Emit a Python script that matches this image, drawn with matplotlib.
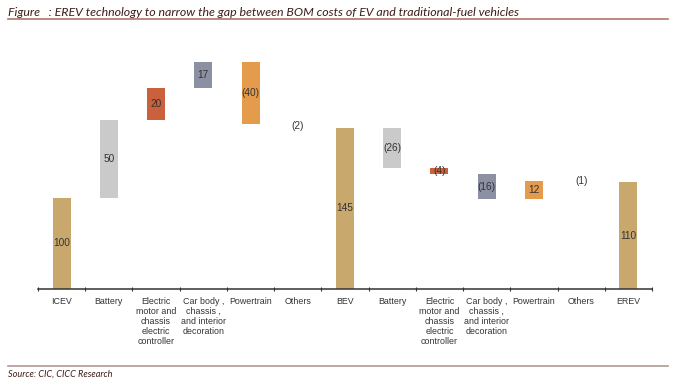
import matplotlib
matplotlib.use("Agg")
import matplotlib.pyplot as plt
from matplotlib.lines import Line2D

# waterfall data (BOM cost)
categories = ["ICEV", "Battery",
              "Electric\nmotor and\nchassis\nelectric\ncontroller",
              "Car body ,\nchassis ,\nand interior\ndecoration",
              "Powertrain", "Others", "BEV", "Battery",
              "Electric\nmotor and\nchassis\nelectric\ncontroller",
              "Car body ,\nchassis ,\nand interior\ndecoration",
              "Powertrain", "Others", "EREV"]
values = [100, 50, 20, 17, -40, -2, 145, -26, -4, -16, 12, -1, 110]
is_total = [True, False, False, False, False, False, True,
            False, False, False, False, False, True]

tan, gray, rust, slate, orange = "#C9A86E", "#CACACA", "#C8613C", "#8C90A3", "#E59B4C"
colors = [tan, gray, rust, slate, orange, "white", tan,
          gray, rust, slate, orange, "white", tan]

fig = plt.figure(figsize=(6.77, 3.87), dpi=100)
ax = fig.add_axes([38/677, 1-289/387, (652-38)/677, (289-40)/387])

running = 0
for i, (v, tot) in enumerate(zip(values, is_total)):
    if tot:
        bottom, height = 0, v
        running = v
        mid = 41.7 + (v - 41.7) / 2
    else:
        bottom, height = running, v
        running += v
        mid = bottom + v / 2
    ax.bar(i, height, bottom=bottom, width=0.38, color=colors[i], edgecolor="none")
    txt = str(v) if v >= 0 else "(%d)" % abs(v)
    ax.text(i, mid, txt, ha="center", va="center", fontsize=7.3,
            family="Liberation Sans", color="#333333")

ax.set_xlim(-0.5, len(values) - 0.5)
ax.set_ylim(41.7, 201)
for s in ["top", "left", "right"]:
    ax.spines[s].set_visible(False)
ax.spines["bottom"].set_color("#333333")
ax.spines["bottom"].set_linewidth(1.1)
ax.set_yticks([])
ax.set_xticks([i - 0.5 for i in range(len(values) + 1)])
ax.set_xticklabels([])
ax.tick_params(axis="x", direction="inout", length=3, width=0.8, color="#333333")

for i, c in enumerate(categories):
    ax.text(i, -0.033, c, transform=ax.get_xaxis_transform(), ha="center", va="top",
            fontsize=6.4, family="Liberation Sans", color="#333333", linespacing=1.12)

# header / footer
fig.text(8/677, 1-12/387, "Figure   : EREV technology to narrow the gap between BOM costs of EV and traditional-fuel vehicles",
         fontsize=8.9, style="italic", family="Lato", color="#3E1E18", va="center")
fig.add_artist(Line2D([8/677, 668/677], [1-19/387, 1-19/387], color="#B07468", lw=1.2))
fig.add_artist(Line2D([8/677, 668/677], [1-366/387, 1-366/387], color="#B09A96", lw=1.2))
fig.text(8/677, 1-374/387, "Source: CIC, CICC Research", fontsize=6.6, style="italic",
         family="Lato", color="#3E1E18", va="center")

fig.savefig("out.png", dpi=100)
